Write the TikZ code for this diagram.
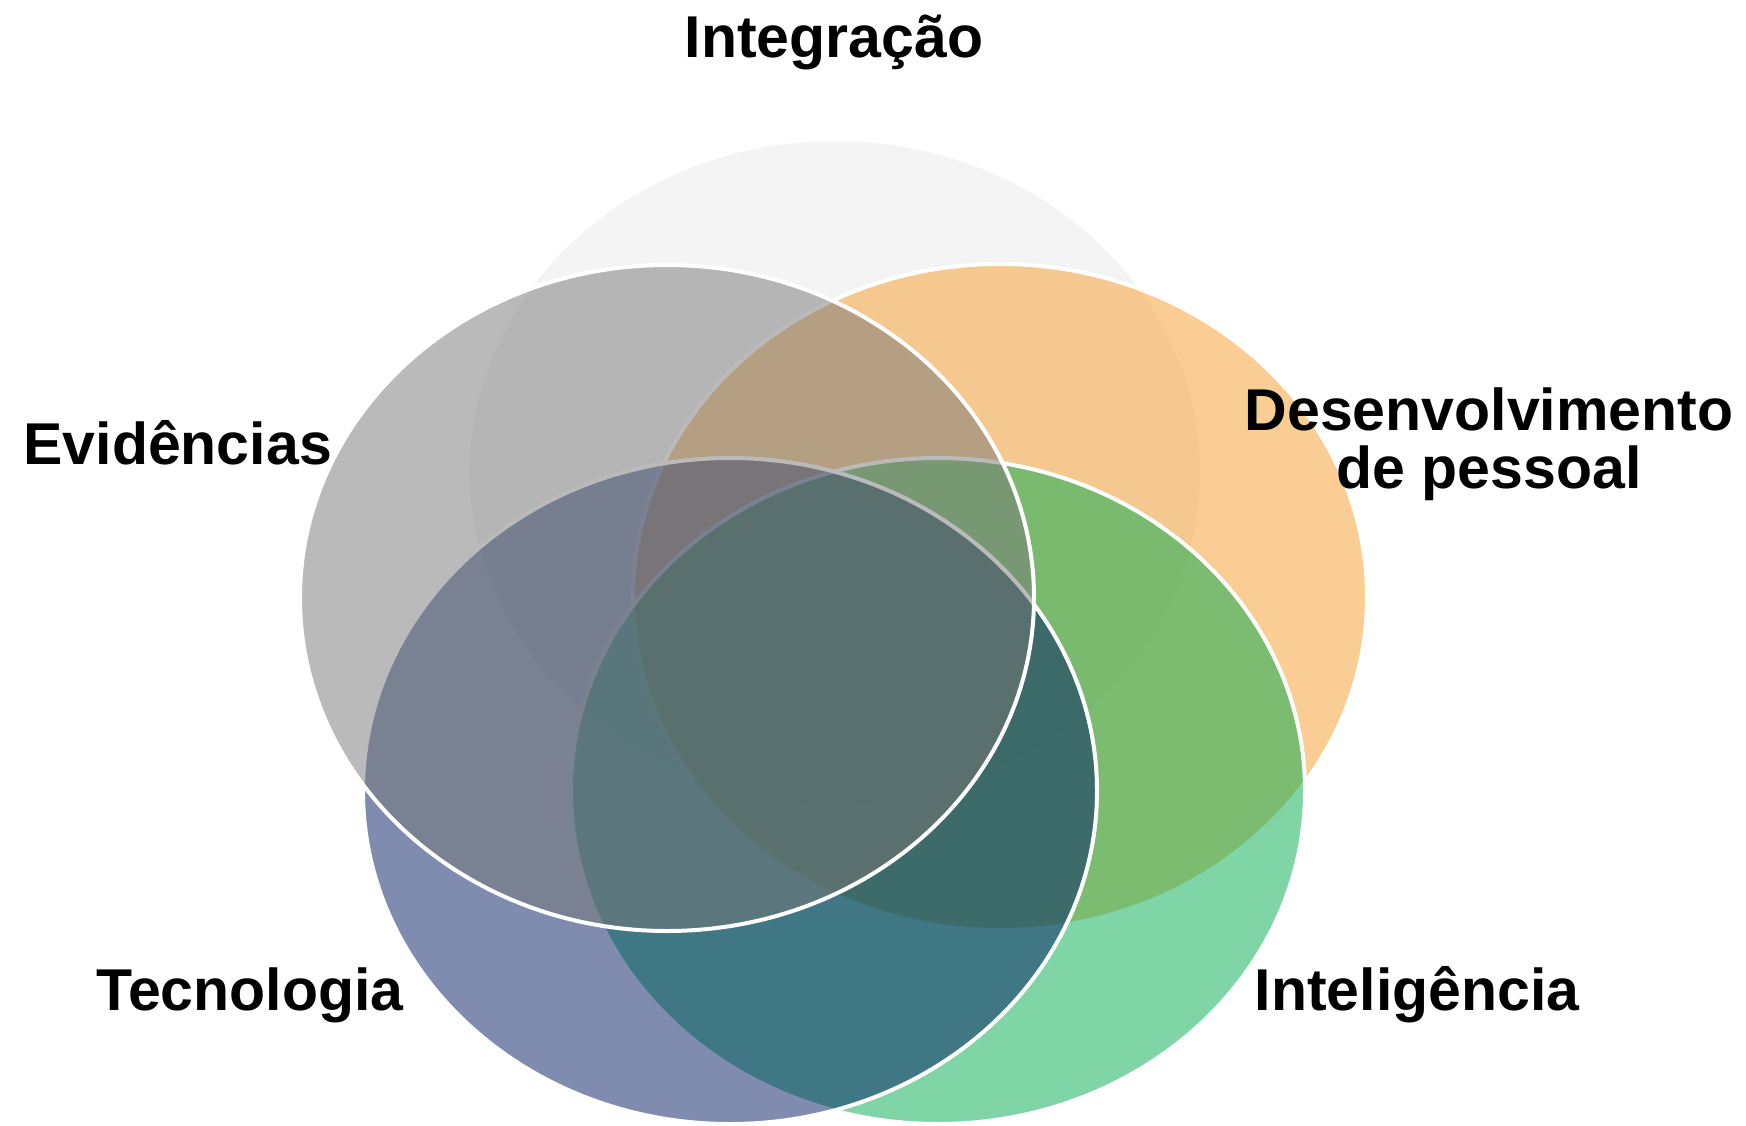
\documentclass[tikz,border=0pt]{standalone}
\usepackage{fontspec}
\setmainfont{Liberation Sans}
\usetikzlibrary{shapes.geometric}
\definecolor{cInt}{HTML}{EBEBEB}
\definecolor{cDes}{HTML}{F79D2D}
\definecolor{cItl}{HTML}{00AD4F}
\definecolor{cTec}{HTML}{001B63}
\definecolor{cEvi}{HTML}{777777}
\tikzset{
  venn/.style={ellipse, inner sep=0pt, minimum width=734pt, minimum height=666pt,
    fill opacity=0.5, draw=white, draw opacity=1, line width=4pt},
  lbl/.style={font=\fontsize{59}{58}\selectfont\bfseries, text=black, anchor=base, align=center}
}
\begin{document}
\begin{tikzpicture}[x=1pt,y=-1pt]
\useasboundingbox[fill=white] (0,0) rectangle (1746,1125);
\node[venn, fill=cInt] (eInt) at (835,472) {};
\node[venn, fill=cDes] (eDes) at (1000,597) {};
\node[venn, fill=cItl] (eItl) at (938,791) {};
\node[venn, fill=cTec] (eTec) at (730,791) {};
\node[venn, fill=cEvi] (eEvi) at (667,598) {};
\node[lbl] (tInt) at (834,57) {Integração};
\node[lbl, anchor=base west] (tEvi) at (20,464) {Evidências};
\node[lbl, anchor=base] (tDes) at (1489,430) {Desenvolvimento};
\node[lbl, anchor=base] (tDes2) at (1489,488) {de pessoal};
\node[lbl] (tTec) at (250,1010) {Tecnologia};
\node[lbl] (tItl) at (1417,1010) {Inteligência};
\end{tikzpicture}
\end{document}
